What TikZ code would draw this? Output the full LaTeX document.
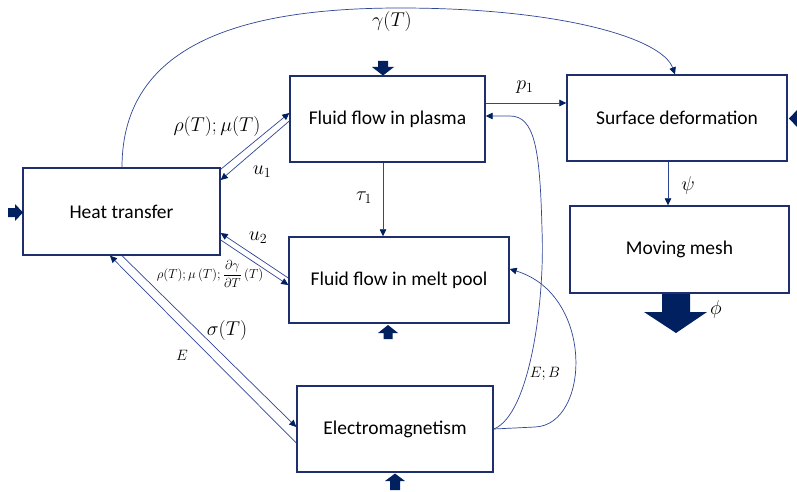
\RequirePackage{fix-cm}
\documentclass[tikz,border=0pt]{standalone}
\usepackage{fontspec}
\setmainfont{Carlito}
\usetikzlibrary{arrows.meta,calc}
\definecolor{boxc}{RGB}{31,47,110}
\definecolor{linec}{RGB}{47,69,150}
\definecolor{navyc}{RGB}{0,32,96}
\begin{document}
\begin{tikzpicture}[x=1pt,y=-1pt,
  blk/.style={draw=boxc,line width=1.4pt,fill=white,inner sep=0pt,font=\fontsize{19.5}{22}\selectfont},
  conn/.style={draw=linec,line width=0.7pt,-{Triangle[length=7pt,width=6.5pt,fill=navyc,color=navyc]}},
  lbl/.style={inner sep=1pt,font=\fontsize{20}{23}\selectfont},
  slbl/.style={inner sep=1pt,font=\fontsize{15}{17}\selectfont},
  fat/.style={fill=navyc,draw=none}]
\useasboundingbox (0,0) rectangle (797,492);
\fill[white] (0,0) rectangle (797,492);
% boxes
\node[blk,minimum width=197pt,minimum height=87pt] (heat) at (121.5,211.5) {Heat transfer};
\node[blk,minimum width=195pt,minimum height=86pt] (plasma) at (387.5,119) {Fluid flow in plasma};
\node[blk,minimum width=220pt,minimum height=86pt] (melt) at (399,280) {Fluid flow in melt pool};
\node[blk,minimum width=196pt,minimum height=86pt] (em) at (395,429) {Electromagnetism};
\node[blk,minimum width=220pt,minimum height=86pt] (surf) at (677,118) {Surface deformation};
\node[blk,minimum width=219pt,minimum height=87pt] (mesh) at (679.5,249.5) {Moving mesh};
% thick input arrows
\fill[fat] (8,208) -- (15,208) -- (15,204) -- (23,212.5) -- (15,221) -- (15,217) -- (8,217) -- cycle;
\fill[fat] (378,61) -- (388,61) -- (388,67) -- (394,67) -- (383,75.5) -- (372,67) -- (378,67) -- cycle;
\fill[fat] (383.5,339) -- (392.5,339) -- (392.5,333) -- (398,333) -- (388,325) -- (378,333) -- (383.5,333) -- cycle;
\fill[fat] (390,490) -- (400,490) -- (400,481) -- (405,481) -- (395,473.5) -- (385,481) -- (390,481) -- cycle;
\fill[fat] (789,118.5) -- (798,109) -- (798,128) -- cycle;
\fill[fat] (662,294) -- (690,294) -- (690,312) -- (707,312) -- (676,333) -- (644,312) -- (662,312) -- cycle;
% connectors
\draw[conn] (heat.north -| 122,0) .. controls (122,40) and (250,8) .. (400,8) .. controls (560,8) and (662,38) .. (surf.north -| 675,0);
\draw[conn] ($(heat.north east)+(0,2)$) -- (plasma.west |- 0,113);
\draw[conn] (plasma.west |- 0,121) -- (heat.east |- 0,180);
\draw[conn] (melt.west |- 0,278) -- (heat.east |- 0,233);
\draw[conn] (heat.east |- 0,240) -- (melt.west |- 0,285);
\draw[conn] (heat.south -| 122,0) -- (em.west |- 0,427);
\draw[conn] (em.west |- 0,443) -- (heat.south -| 110,0);
\draw[conn] (plasma.south -| 383,0) -- (melt.north -| 383,0);
\draw[conn] (plasma.east |- 0,103) -- (surf.west |- 0,103);
\draw[conn] (surf.south -| 668,0) -- (mesh.north -| 668,0);
\draw[conn] (em.east |- 0,429) .. controls (530,415) and (545,300) .. (542,230) .. controls (540,150) and (535,116) .. (510,116) -- (plasma.east |- 0,116);
\draw[conn] (em.east |- 0,429) -- (535,427) .. controls (590,425) and (595,295) .. (melt.east |- 0,269);
% labels
\node[lbl] (lgamma) at (392,22) {$\gamma(T)$};
\node[lbl] (lrho1) at (217,127) {$\rho(T);\mu(T)$};
\node[lbl] (lu1) at (262,172) {$u_1$};
\node[lbl] (lu2) at (258,238) {$u_2$};
\node[inner sep=1pt,font=\fontsize{13}{15}\selectfont] (lrho2) at (210,274) {$\rho(T);\mu\,(T);\displaystyle\frac{\partial\gamma}{\partial T}\,(T)$};
\node[lbl] (lsigma) at (227,330) {$\sigma(T)$};
\node[slbl] (lE) at (182,355) {$E$};
\node[lbl] (ltau) at (364,198) {$\tau_1$};
\node[lbl] (lp1) at (525,87) {$p_1$};
\node[lbl] (lpsi) at (688,185) {$\psi$};
\node[slbl] (lEB) at (545,374) {$E;B$};
\node[lbl] (lphi) at (716,309) {$\phi$};
\end{tikzpicture}
\end{document}
